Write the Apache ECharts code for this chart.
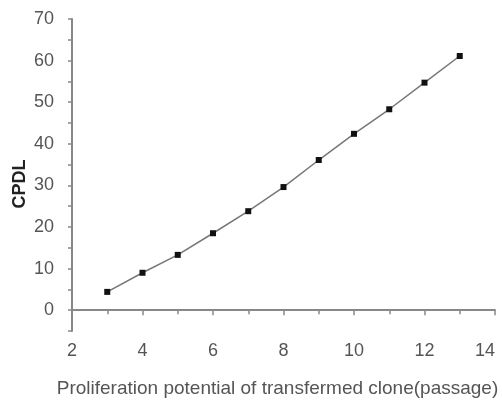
<!DOCTYPE html>
<html><head><meta charset="utf-8">
<script src="https://cdn.jsdelivr.net/npm/echarts@6/dist/echarts.min.js"></script>
<style>html,body{margin:0;padding:0;background:#fff}#c{width:502px;height:403px}</style>
</head><body><div id="c"></div>
<script>
var passages = [3, 4, 5, 6, 7, 8, 9, 10, 11, 12, 13];
var cpdl = [4.4, 9.0, 13.3, 18.5, 23.8, 29.6, 36.1, 42.4, 48.3, 54.7, 61.1];
var xTicks = [2, 4, 6, 8, 10, 12, 14];
var yTicks = [0, 10, 20, 30, 40, 50, 60, 70];
var xTitle = 'Proliferation potential of transfermed clone(passage)';
var yTitle = 'CPDL';

var chart = echarts.init(document.getElementById('c'));
var font = 'Liberation Sans';
chart.setOption({
  animation: false,
  backgroundColor: '#fff',
  grid: {left: 72, right: 7, top: 19, bottom: 72, containLabel: false, outerBoundsMode: 'none'},
  xAxis: {
    type: 'value', min: 2, max: 14, interval: 2,
    axisLine: {show: true, lineStyle: {color: '#888', width: 2}},
    axisTick: {show: true, length: 5, lineStyle: {color: '#888', width: 1.5}},
    minorTick: {show: true, splitNumber: 2, length: 4, lineStyle: {color: '#888', width: 1.5}},
    splitLine: {show: false},
    axisLabel: {color: '#555', fontSize: 18, fontFamily: font, margin: 11, alignMaxLabel: 'right',
      formatter: function(v){ return xTicks.indexOf(v) >= 0 ? String(v) : ''; }},
    name: xTitle, nameLocation: 'middle', nameGap: 48, nameMoveOverlap: false,
    nameTextStyle: {color: '#555', fontSize: 19, fontFamily: font, padding: [0, 12, 0, 0]}
  },
  yAxis: {
    type: 'value', min: -5, max: 70, interval: 5,
    axisLine: {show: true, lineStyle: {color: '#888', width: 2}},
    axisTick: {show: true, length: 4, lineStyle: {color: '#888', width: 1.5}},
    splitLine: {show: false},
    axisLabel: {color: '#555', fontSize: 18, fontFamily: font, margin: 18,
      formatter: function(v){ return yTicks.indexOf(v) >= 0 ? String(v) : ''; }},
    name: yTitle, nameLocation: 'middle', nameGap: 43, nameRotate: 90, nameMoveOverlap: false,
    nameTextStyle: {color: '#222', fontSize: 18, fontWeight: 'bold', fontFamily: font, padding: [0, 18, 0, 0]}
  },
  series: [{
    type: 'line',
    data: passages.map(function(p, i){ return [p, cpdl[i]]; }),
    symbol: 'rect', symbolSize: 6,
    itemStyle: {color: '#111'},
    lineStyle: {color: '#777', width: 1.5}
  }]
});
</script></body></html>
